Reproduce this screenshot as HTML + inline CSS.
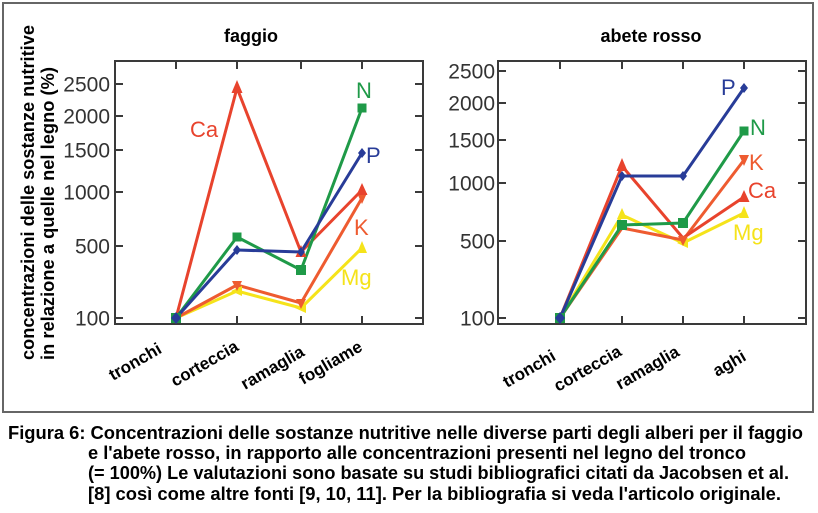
<!DOCTYPE html>
<html>
<head>
<meta charset="utf-8">
<style>
  html,body{margin:0;padding:0;background:#fff;}
  svg{display:block;}
  text{font-family:"Liberation Sans",Arial,sans-serif;}
</style>
</head>
<body>
<svg width="818" height="513" viewBox="0 0 818 513" xmlns="http://www.w3.org/2000/svg">
  <rect x="0" y="0" width="818" height="513" fill="#fff"/>
  <!-- outer frame -->
  <rect x="3" y="3" width="810" height="409" fill="none" stroke="#666" stroke-width="2"/>

  <!-- Y axis title -->
  <text transform="translate(34,360) rotate(-90)" font-size="18" font-weight="bold" fill="#000" textLength="335" lengthAdjust="spacingAndGlyphs">concentrazioni delle sostanze nutritive</text>
  <text transform="translate(54,360) rotate(-90)" font-size="18" font-weight="bold" fill="#000" textLength="293" lengthAdjust="spacingAndGlyphs">in relazione a quelle nel legno (%)</text>

  <!-- Titles -->
  <text x="251" y="42" font-size="18" font-weight="bold" text-anchor="middle" fill="#000">faggio</text>
  <text x="651" y="42" font-size="18" font-weight="bold" text-anchor="middle" fill="#000">abete rosso</text>

  <!-- LEFT CHART axes -->
  <g stroke="#3a3a3a" stroke-width="2" fill="none">
    <rect x="115" y="61" width="308" height="263"/>
    <path d="M176 61v8M237 61v8M301 61v8M362 61v8"/>
    <path d="M176 324v-8M237 324v-8M301 324v-8M362 324v-8"/>
    <path d="M115 84h8M115 116h8M115 150h8M115 192h8M115 246h8M115 318h8"/>
    <path d="M423 84h-8M423 116h-8M423 150h-8M423 192h-8M423 246h-8M423 318h-8"/>
  </g>
  <g font-size="21" fill="#333" text-anchor="end">
    <text x="110" y="91.5">2500</text>
    <text x="110" y="123.5">2000</text>
    <text x="110" y="157.5">1500</text>
    <text x="110" y="199.5">1000</text>
    <text x="110" y="253.5">500</text>
    <text x="110" y="325.5">100</text>
  </g>

  <!-- RIGHT CHART axes -->
  <g stroke="#3a3a3a" stroke-width="2" fill="none">
    <rect x="498" y="61" width="308" height="263"/>
    <path d="M560 61v8M622 61v8M683 61v8M744 61v8"/>
    <path d="M560 324v-8M622 324v-8M683 324v-8M744 324v-8"/>
    <path d="M498 71h8M498 103h8M498 140h8M498 183h8M498 241h8M498 318h8"/>
    <path d="M806 71h-8M806 103h-8M806 140h-8M806 183h-8M806 241h-8M806 318h-8"/>
  </g>
  <g font-size="21" fill="#333" text-anchor="end">
    <text x="495" y="78.5">2500</text>
    <text x="495" y="110.5">2000</text>
    <text x="495" y="147.5">1500</text>
    <text x="495" y="190.5">1000</text>
    <text x="495" y="248.5">500</text>
    <text x="495" y="325.5">100</text>
  </g>

  <!-- LEFT series -->
  <g fill="none" stroke-width="3" stroke-linejoin="round">
    <polyline points="176,318 237,291 301,308 362,248" stroke="#f5e31a"/>
    <polyline points="176,318 237,285 301,303 362,198" stroke="#ee5b30"/>
    <polyline points="176,318 237,88 301,252 362,190" stroke="#e8432d"/>
    <polyline points="176,318 237,237 301,270 362,108" stroke="#1f9a48"/>
    <polyline points="176,318 237,250 301,252 362,153" stroke="#283c98"/>
  </g>
  <!-- left markers -->
  <g fill="#f5e31a">
    <polygon points="231,291 242,286 242,296"/>
    <polygon points="295,308 306,303 306,313"/>
    <polygon points="362,241 357,253 367,253"/>
  </g>
  <g fill="#ee5b30">
    <polygon points="237,291 232,281 242,281"/>
    <polygon points="301,309 296,299 306,299"/>
    <polygon points="362,204 357,193 367,193"/>
  </g>
  <g fill="#e8432d">
    <polygon points="237,80 231.5,93 242.5,93"/>
    <polygon points="301,245 295.5,257 306.5,257"/>
    <polygon points="362,183 356.5,195 367.5,195"/>
  </g>
  <g fill="#1f9a48">
    <rect x="171" y="313" width="10" height="10"/>
    <rect x="232.5" y="232.5" width="9" height="9"/>
    <rect x="296" y="265" width="10" height="10"/>
    <rect x="357.5" y="103.5" width="9" height="9"/>
  </g>
  <g fill="#283c98">
    <polygon points="176,312 181,318 176,324 171,318"/>
    <polygon points="237,245 241,250 237,255 233,250"/>
    <polygon points="301,247 305,252 301,257 297,252"/>
    <polygon points="362,148 366,153 362,158 358,153"/>
  </g>
  <!-- left labels -->
  <g font-size="22">
    <text x="190" y="137" fill="#e8432d">Ca</text>
    <text x="356" y="98" fill="#1f9a48">N</text>
    <text x="366" y="163" fill="#283c98">P</text>
    <text x="354" y="235" fill="#ee5b30">K</text>
    <text x="341" y="285" fill="#f5e31a">Mg</text>
  </g>

  <!-- RIGHT series -->
  <g fill="none" stroke-width="3" stroke-linejoin="round">
    <polyline points="560,318 622,215 683,243 744,213" stroke="#f5e31a"/>
    <polyline points="560,318 622,228 683,240 744,160" stroke="#ee5b30"/>
    <polyline points="560,318 622,166 683,238 744,197" stroke="#e8432d"/>
    <polyline points="560,318 622,225 683,223 744,131" stroke="#1f9a48"/>
    <polyline points="560,318 622,176 683,176 744,88" stroke="#283c98"/>
  </g>
  <g fill="#f5e31a">
    <polygon points="622,208 617,219 627,219"/>
    <polygon points="677,243 688,238 688,248"/>
    <polygon points="744,206 739,218 749,218"/>
  </g>
  <g fill="#ee5b30">
    <polygon points="744,166 739,155 749,155"/>
    <polygon points="683,246 678,236 688,236"/>
  </g>
  <g fill="#e8432d">
    <polygon points="622,158 616.5,171 627.5,171"/>
    <polygon points="744,190 738.5,202 749.5,202"/>
  </g>
  <g fill="#1f9a48">
    <rect x="555" y="313" width="10" height="10"/>
    <rect x="617" y="220" width="10" height="10"/>
    <rect x="678" y="218" width="10" height="10"/>
    <rect x="739.5" y="126.5" width="9" height="9"/>
  </g>
  <g fill="#283c98">
    <polygon points="560,312 565,318 560,324 555,318"/>
    <polygon points="622,171 626,176 622,181 618,176"/>
    <polygon points="683,171 687,176 683,181 679,176"/>
    <polygon points="744,83 748,88 744,93 740,88"/>
  </g>
  <g font-size="22">
    <text x="721" y="95" fill="#283c98">P</text>
    <text x="750" y="135" fill="#1f9a48">N</text>
    <text x="749" y="170" fill="#ee5b30">K</text>
    <text x="748" y="198" fill="#e8432d">Ca</text>
    <text x="733" y="240" fill="#f5e31a">Mg</text>
  </g>

  <!-- X labels -->
  <g font-size="17" font-weight="bold" fill="#000">
    <text transform="translate(113,381) rotate(-30)">tronchi</text>
    <text transform="translate(175,387) rotate(-30)">corteccia</text>
    <text transform="translate(245,390) rotate(-30)">ramaglia</text>
    <text transform="translate(303,385) rotate(-30)">fogliame</text>
    <text transform="translate(507,388) rotate(-30)">tronchi</text>
    <text transform="translate(558,392) rotate(-30)">corteccia</text>
    <text transform="translate(620,390) rotate(-30)">ramaglia</text>
    <text transform="translate(717,377) rotate(-30)">aghi</text>
  </g>

  <!-- Caption -->
  <g font-size="18" font-weight="bold" fill="#000">
    <text x="8" y="439" textLength="795" lengthAdjust="spacingAndGlyphs">Figura 6: Concentrazioni delle sostanze nutritive nelle diverse parti degli alberi per il faggio</text>
    <text x="88" y="459" textLength="658" lengthAdjust="spacingAndGlyphs">e l'abete rosso, in rapporto alle concentrazioni presenti nel legno del tronco</text>
    <text x="88" y="479" textLength="701" lengthAdjust="spacingAndGlyphs">(= 100%) Le valutazioni sono basate su studi bibliografici citati da Jacobsen et al.</text>
    <text x="88" y="500" textLength="693" lengthAdjust="spacingAndGlyphs">[8] così come altre fonti [9, 10, 11]. Per la bibliografia si veda l'articolo originale.</text>
  </g>
</svg>
</body>
</html>
